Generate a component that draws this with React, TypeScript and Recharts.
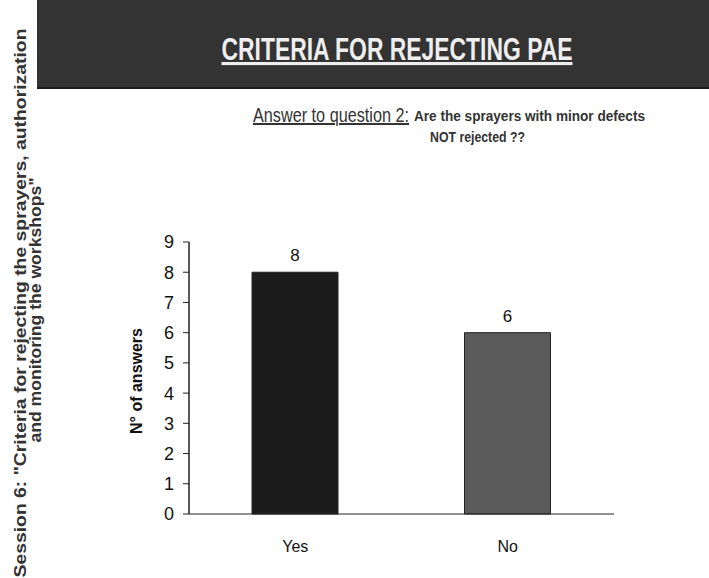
import React from 'react'
import { BarChart, Bar, XAxis, YAxis, Cell, LabelList, ReferenceLine } from 'recharts'

const categories = ['Yes', 'No']
const answers = [8, 6]
const barColors = ['#1c1c1c', '#5b5b5b']
const yTicks = [0, 1, 2, 3, 4, 5, 6, 7, 8, 9]
const edgeTicks = [0, 1, 2]

const data = categories.map((name, i) => ({ name, value: answers[i] }))

const font = '"Liberation Sans", Arial, sans-serif'
const narrow = '"Liberation Sans Narrow", "Arial Narrow", "Liberation Sans", sans-serif'

function Decorations() {
  return (
    <svg
      width={709}
      height={578}
      style={{ position: 'absolute', left: 0, top: 0, pointerEvents: 'none' }}
      fontFamily={font}
    >
      <rect x={37} y={0} width={672} height={88} fill="#333333" />
      <rect x={37} y={87} width={672} height={2} fill="#1a1a1a" />
      <text
        x={397}
        y={60}
        textAnchor="middle"
        fontFamily={narrow}
        fontSize={31}
        fontWeight="bold"
        fill="#eeeeee"
        textLength={351}
        lengthAdjust="spacingAndGlyphs"
        style={{ textDecoration: 'underline' }}
      >
        CRITERIA FOR REJECTING PAE
      </text>
      <text
        x={253}
        y={122}
        fontFamily={narrow}
        fontSize={20}
        fill="#333333"
        textLength={156}
        lengthAdjust="spacingAndGlyphs"
        style={{ textDecoration: 'underline' }}
      >
        Answer to question  2:
      </text>
      <text
        x={414}
        y={121}
        fontFamily={narrow}
        fontSize={14}
        fontWeight="bold"
        fill="#333333"
        textLength={231}
        lengthAdjust="spacingAndGlyphs"
      >
        Are the sprayers with minor defects
      </text>
      <text
        x={430}
        y={142}
        fontFamily={narrow}
        fontSize={14}
        fontWeight="bold"
        fill="#333333"
        textLength={95}
        lengthAdjust="spacingAndGlyphs"
      >
        NOT rejected ??
      </text>
      <text
        transform="translate(26,303) rotate(-90)"
        textAnchor="middle"
        fontSize={16}
        fontWeight="bold"
        fill="#333333"
        textLength={549}
        lengthAdjust="spacingAndGlyphs"
      >
        Session 6:  "Criteria for rejecting the sprayers, authorization
      </text>
      <text
        transform="translate(41,310) rotate(-90)"
        textAnchor="middle"
        fontSize={16}
        fontWeight="bold"
        fill="#333333"
        textLength={265}
        lengthAdjust="spacingAndGlyphs"
      >
        and monitoring the workshops"
      </text>
      <text
        transform="translate(142,381) rotate(-90)"
        textAnchor="middle"
        fontSize={16}
        fontWeight="bold"
        fill="#111111"
      >
        N° of answers
      </text>
    </svg>
  )
}

export default function App() {
  return (
    <div
      style={{
        position: 'absolute',
        left: 0,
        top: 0,
        width: 709,
        height: 578,
        background: '#ffffff',
        fontFamily: font,
      }}
    >
      <BarChart
        width={709}
        height={578}
        data={data}
        margin={{ top: 242, right: 95, bottom: 33, left: 129 }}
      >
        <XAxis
          xAxisId="axis"
          type="number"
          domain={[0, 2]}
          ticks={edgeTicks}
          allowDataOverflow
          tick={false}
          tickSize={7}
          height={1}
          stroke="#222222"
        />
        <XAxis
          xAxisId="cat"
          dataKey="name"
          height={30}
          axisLine={false}
          tickLine={false}
          tickSize={0}
          tickMargin={26}
          tick={{ fontSize: 16, fill: '#111111' }}
        />
        <YAxis
          width={60}
          domain={[0, 9]}
          ticks={yTicks}
          interval={0}
          tickSize={6}
          tickMargin={9}
          stroke="#222222"
          tick={{ fontSize: 18, fill: '#111111' }}
        />
        <ReferenceLine xAxisId="axis" x={0} stroke="#222222" ifOverflow="visible" />
        <Bar
          xAxisId="cat"
          dataKey="value"
          barSize={86}
          stroke="#222222"
          strokeWidth={1}
          isAnimationActive={false}
        >
          {data.map((d, i) => (
            <Cell key={d.name} fill={barColors[i]} />
          ))}
          <LabelList dataKey="value" position="top" offset={11} fontSize={17} fill="#111111" />
        </Bar>
      </BarChart>
      <Decorations />
    </div>
  )
}
